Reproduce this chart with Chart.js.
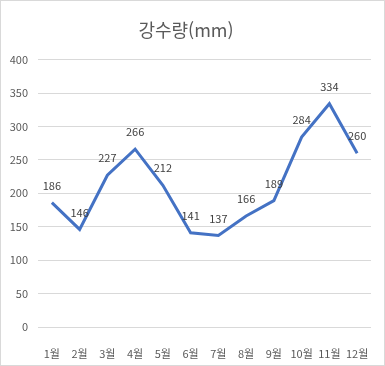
<!DOCTYPE html>
<html lang="ko">
<head>
<meta charset="UTF-8" />
<title>강수량</title>
<script src="https://cdn.jsdelivr.net/npm/chart.js"></script>
<style>
  body { margin: 0; background: #fff; }
  .box {
    width: 385px;
    height: 366px;
    box-sizing: border-box;
    border: 1px solid #d9d9d9;
  }
  #grafico { display: block; }
</style>
</head>
<body>
<div class="box">
  <canvas id="grafico" width="383" height="364"></canvas>
</div>
<script>
const months = ['1월', '2월', '3월', '4월', '5월', '6월', '7월', '8월', '9월', '10월', '11월', '12월'];
const rainfall = [186, 146, 227, 266, 212, 141, 137, 166, 189, 284, 334, 260];
const yTicks = [0, 50, 100, 150, 200, 250, 300, 350, 400];

const fonte = "'Noto Sans CJK KR', 'Noto Sans', sans-serif";

// value labels above each point
const rotulos = {
  id: 'rotulos',
  afterDatasetsDraw(chart) {
    const ctx = chart.ctx;
    const meta = chart.getDatasetMeta(0);
    ctx.save();
    ctx.font = '11px ' + fonte;
    ctx.fillStyle = '#404040';
    ctx.textAlign = 'center';
    ctx.textBaseline = 'middle';
    meta.data.forEach((p, i) => {
      ctx.fillText(String(rainfall[i]), p.x, p.y - 17);
    });
    ctx.restore();
  }
};

new Chart(document.getElementById('grafico'), {
  type: 'line',
  data: {
    labels: months,
    datasets: [{
      data: rainfall,
      borderColor: '#4472C4',
      borderWidth: 3,
      pointRadius: 0,
      tension: 0,
      fill: false
    }]
  },
  options: {
    responsive: false,
    animation: false,
    layout: { padding: { left: 0, right: 13, top: 0, bottom: 6 } },
    plugins: {
      legend: { display: false },
      tooltip: { enabled: false },
      title: {
        display: true,
        text: '강수량(mm)',
        color: '#595959',
        font: { family: fonte, size: 18, weight: 'normal' },
        padding: { top: 18, bottom: 19 }
      }
    },
    scales: {
      x: {
        offset: true,
        grid: { display: false },
        border: { display: false },
        ticks: {
          color: '#595959',
          font: { family: fonte, size: 11 },
          padding: 12,
          maxRotation: 0,
          autoSkip: false
        },
        afterFit(scale) { scale.height = 32; }
      },
      y: {
        min: 0,
        max: 400,
        afterBuildTicks(scale) { scale.ticks = yTicks.map(v => ({ value: v })); },
        grid: { color: '#d9d9d9', drawTicks: false },
        border: { display: false },
        ticks: {
          color: '#595959',
          font: { family: fonte, size: 11 },
          padding: 10
        },
        afterFit(scale) { scale.width = 37; }
      }
    }
  },
  plugins: [rotulos]
});
</script>
</body>
</html>
